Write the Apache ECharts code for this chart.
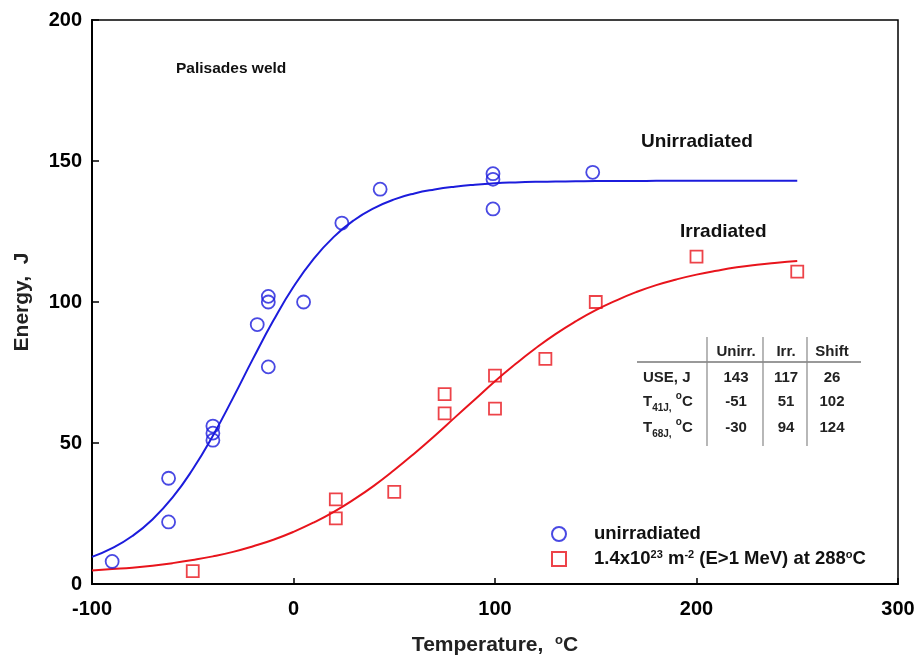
<!DOCTYPE html>
<html>
<head>
<meta charset="utf-8">
<script src="https://cdn.jsdelivr.net/npm/echarts@6/dist/echarts.min.js"></script>
<style>
  html, body { margin: 0; padding: 0; background: #fff; }
  #chart { width: 917px; height: 658px; }
</style>
</head>
<body>
<div id="chart"></div>
<script>
// measured points, unirradiated weld
const unirrT = [-90, -62, -62, -40, -40, -40, -18, -12.5, -12.5, -12.5, 5, 24, 43, 99, 99, 99, 148.5];
const unirrE = [8, 37.5, 22, 56, 53.5, 51, 92, 102, 100, 77, 100, 128, 140, 145.5, 143.5, 133, 146];

// measured points, irradiated weld
const irrT = [-50, 21, 21, 50, 75, 75, 100, 100, 125, 150, 200, 250];
const irrE = [4.6, 30, 23.3, 32.7, 67.3, 60.5, 73.9, 62.2, 79.8, 100, 116.1, 110.8];

// fitted curves, every 10 C
const curveT = [-100, -90, -80, -70, -60, -50, -40, -30, -20, -10, 0, 10, 20, 30, 40, 50, 60, 70,
  80, 90, 100, 110, 120, 130, 140, 150, 160, 170, 180, 190, 200, 210, 220, 230, 240, 250];
const unirrFit = [9.6, 12.7, 17.0, 22.9, 30.7, 40.7, 52.6, 66.0, 80.0, 93.4, 105.4, 115.3, 123.1, 129.0,
  133.3, 136.4, 138.5, 139.9, 140.9, 141.6, 142.1, 142.4, 142.6, 142.7, 142.8, 142.9, 142.9, 142.9,
  143.0, 143.0, 143.0, 143.0, 143.0, 143.0, 143.0, 143.0];
const irrFit = [4.8, 5.3, 5.8, 6.5, 7.4, 8.5, 9.8, 11.4, 13.4, 15.7, 18.5, 21.8, 25.6, 30.0, 34.9, 40.4,
  46.3, 52.5, 59.0, 65.4, 71.9, 77.9, 83.5, 88.6, 93.1, 97.1, 100.5, 103.5, 106.0, 108.0, 109.7,
  111.1, 112.3, 113.2, 113.9, 114.5];

// summary table
const tableHead = ['Unirr.', 'Irr.', 'Shift'];
const tableRows = ['USE, J', 'T{sub|41J,} {sup|o}C', 'T{sub|68J,} {sup|o}C'];
const tableVals = [[143, 117, 26], [-51, 51, 102], [-30, 94, 124]];

const BLUE = '#1c1cdc';
const RED = '#e8141c';
const FONT = 'Arial, "Liberation Sans", sans-serif';

const pairs = (xs, ys) => xs.map((x, i) => [x, ys[i]]);

const chart = echarts.init(document.getElementById('chart'));

// table graphics
const colX = [736, 786, 832];
const rowY = [378, 402, 428];
const tableGraphic = [];
tableHead.forEach((h, i) => {
  tableGraphic.push({ type: 'text', x: colX[i], y: 352,
    style: { text: h, font: 'bold 15px ' + FONT, fill: '#222', align: 'center', verticalAlign: 'middle' } });
});
tableRows.forEach((r, j) => {
  tableGraphic.push({ type: 'text', x: 643, y: rowY[j],
    style: { text: r, font: 'bold 15px ' + FONT, fill: '#222', align: 'left', verticalAlign: 'middle',
      rich: {
        sub: { fontSize: 10, fontWeight: 'bold', fontFamily: FONT, verticalAlign: 'bottom', lineHeight: 22, padding: [8, 0, 0, 0] },
        sup: { fontSize: 10, fontWeight: 'bold', fontFamily: FONT, verticalAlign: 'top', lineHeight: 22 }
      } } });
  tableVals[j].forEach((v, i) => {
    tableGraphic.push({ type: 'text', x: colX[i], y: rowY[j],
      style: { text: String(v), font: 'bold 15px ' + FONT, fill: '#222', align: 'center', verticalAlign: 'middle' } });
  });
});
tableGraphic.push({ type: 'line', shape: { x1: 637, y1: 362, x2: 861, y2: 362 }, style: { stroke: '#777', lineWidth: 1.5 } });
[707, 763, 807].forEach(x => {
  tableGraphic.push({ type: 'line', shape: { x1: x, y1: 337, x2: x, y2: 446 }, style: { stroke: '#888', lineWidth: 1.2 } });
});

const option = {
  backgroundColor: '#fff',
  animation: false,
  grid: { left: 92, top: 20, right: 19, bottom: 74, show: true, borderColor: '#000', borderWidth: 1.5,
    outerBoundsMode: 'none', containLabel: false },
  xAxis: {
    type: 'value', min: -100, max: 300, interval: 100,
    name: 'Temperature,  {sup|o}C', nameLocation: 'middle', nameGap: 50,
    nameTextStyle: { fontSize: 21, fontWeight: 'bold', color: '#222', fontFamily: FONT,
      rich: { sup: { fontSize: 13, fontWeight: 'bold', verticalAlign: 'top', lineHeight: 23, color: '#222' } } },
    axisLine: { onZero: false, lineStyle: { color: '#000', width: 2 } },
    axisTick: { inside: true, length: 6, lineStyle: { color: '#000', width: 1.5 } },
    axisLabel: { fontSize: 20, fontWeight: 'bold', color: '#000', fontFamily: FONT, margin: 15 },
    splitLine: { show: false }
  },
  yAxis: {
    type: 'value', min: 0, max: 200, interval: 50,
    name: 'Energy,  J', nameLocation: 'middle', nameGap: 59,
    nameTextStyle: { fontSize: 21, fontWeight: 'bold', color: '#222', fontFamily: FONT },
    axisLine: { onZero: false, lineStyle: { color: '#000', width: 2 } },
    axisTick: { inside: true, length: 7, lineStyle: { color: '#000', width: 1.5 } },
    axisLabel: { fontSize: 20, fontWeight: 'bold', color: '#000', fontFamily: FONT, margin: 10 },
    splitLine: { show: false }
  },
  legend: {
    orient: 'vertical', left: 546, top: 519, itemWidth: 14, itemHeight: 14, itemGap: 5,
    data: ['unirradiated', 'irradiated'],
    formatter: name => name === 'unirradiated' ? name
      : '1.4x10{sup|23} m{sup|-2} (E>1 MeV) at 288{sup|o}C',
    textStyle: { fontSize: 18.5, fontWeight: 'bold', color: '#111', fontFamily: FONT, padding: [0, 0, 0, 23],
      lineHeight: 20,
      rich: { sup: { fontSize: 11, fontWeight: 'bold', verticalAlign: 'top', lineHeight: 20, color: '#111' } } }
  },
  graphic: [
    { type: 'text', left: 176, top: 61, style: { text: 'Palisades weld', font: 'bold 15.5px ' + FONT, fill: '#111' } },
    { type: 'text', left: 641, top: 132, style: { text: 'Unirradiated', font: 'bold 19px ' + FONT, fill: '#111' } },
    { type: 'text', left: 680, top: 222, style: { text: 'Irradiated', font: 'bold 19px ' + FONT, fill: '#111' } },
    ...tableGraphic
  ],
  series: [
    { name: 'unirradiated fit', type: 'line', data: pairs(curveT, unirrFit), smooth: true, showSymbol: false,
      lineStyle: { color: BLUE, width: 2 }, z: 2 },
    { name: 'irradiated fit', type: 'line', data: pairs(curveT, irrFit), smooth: true, showSymbol: false,
      lineStyle: { color: RED, width: 2 }, z: 2 },
    { name: 'unirradiated', type: 'scatter', data: pairs(unirrT, unirrE), symbol: 'circle', symbolSize: 13,
      itemStyle: { color: 'transparent', borderColor: BLUE, borderWidth: 1.8 }, z: 3 },
    { name: 'irradiated', type: 'scatter', data: pairs(irrT, irrE), symbol: 'rect', symbolSize: 12,
      itemStyle: { color: 'transparent', borderColor: RED, borderWidth: 1.8 }, z: 3 }
  ]
};

chart.setOption(option);
</script>
</body>
</html>
